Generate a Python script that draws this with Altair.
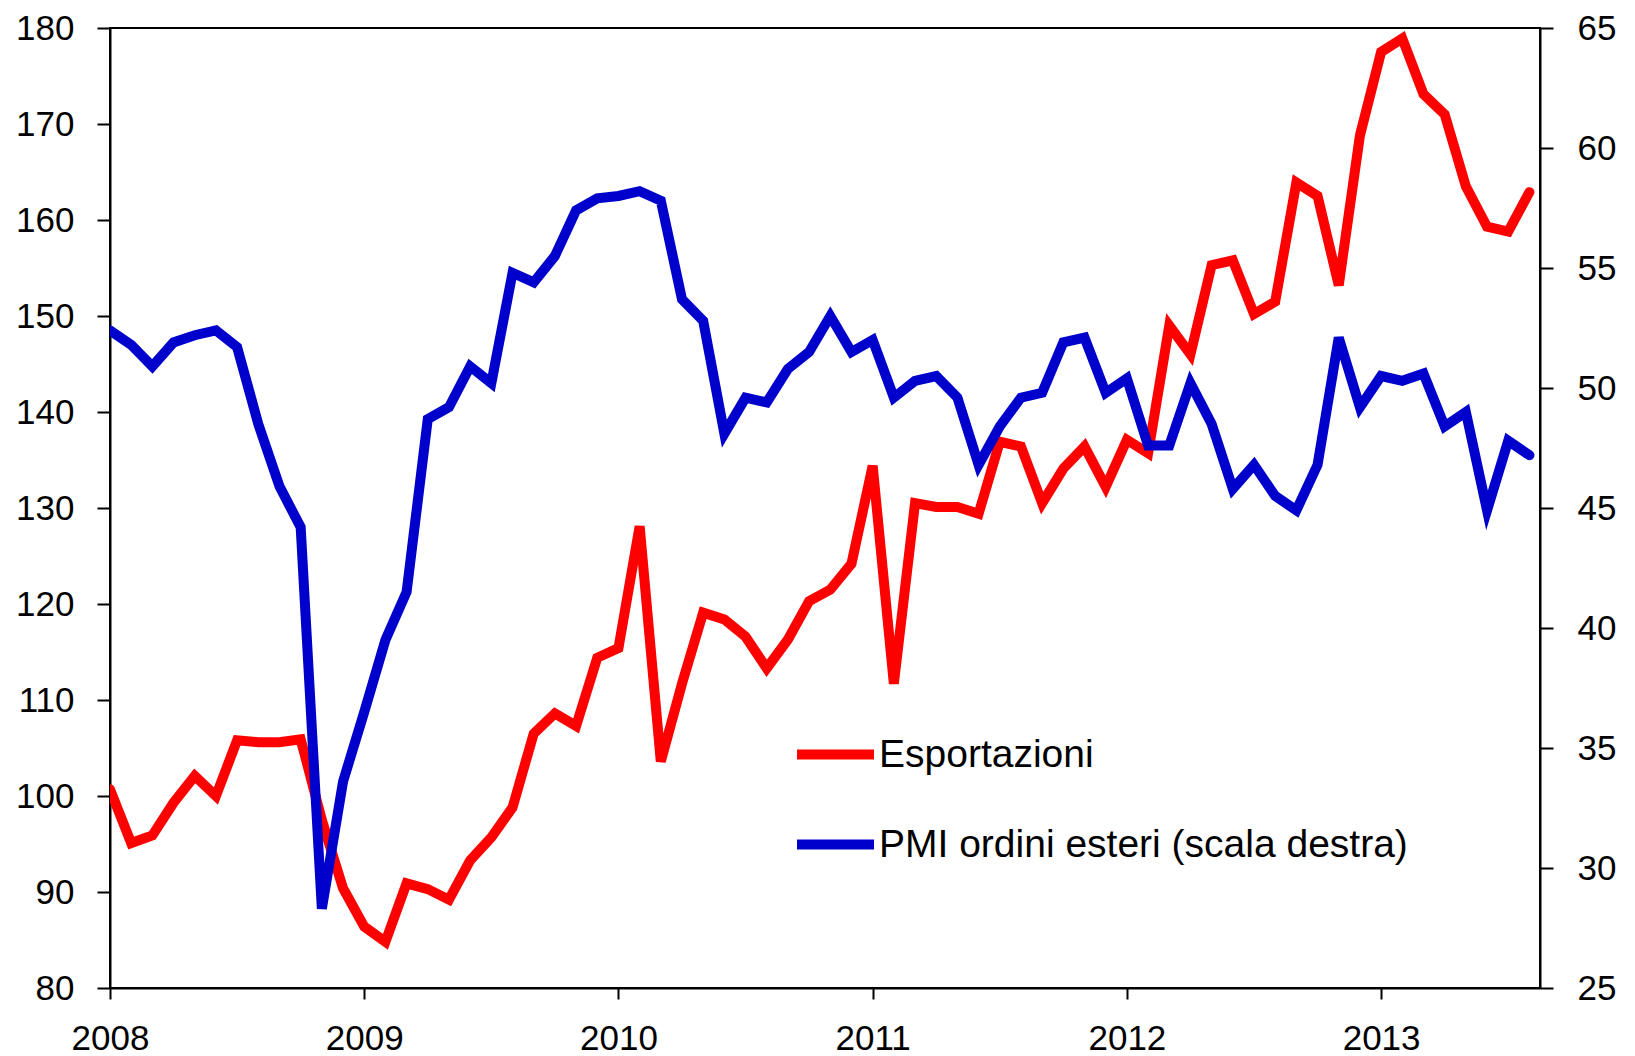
import altair as alt
import pandas as pd

# monthly observations, Jan 2008 - Aug 2013
months = [f"{2008 + i // 12}-{i % 12 + 1:02d}" for i in range(68)]

esportazioni = [
    100.7, 95.1, 95.9, 99.3, 102.1, 100.0, 105.8, 105.6, 105.6, 105.9, 97.5, 90.4,
    86.4, 84.8, 90.9, 90.3, 89.2, 93.3, 95.7, 98.8, 106.5, 108.6, 107.3, 114.4,
    115.4, 128.1, 103.6, 111.7, 119.1, 118.4, 116.6, 113.3, 116.3, 120.3, 121.5, 124.2,
    134.4, 111.7, 130.5, 130.1, 130.1, 129.4, 136.9, 136.4, 130.5, 134.1, 136.4, 132.2,
    137.1, 135.7, 149.0, 146.0, 155.3, 155.8, 150.2, 151.5, 163.9, 162.5, 153.2, 168.8,
    177.5, 178.9, 173.1, 171.0, 163.5, 159.3, 158.8, 162.9,
]

pmi_ordini_esteri = [
    52.4, 51.8, 50.9, 51.9, 52.2, 52.4, 51.7, 48.5, 45.9, 44.2, 28.3, 33.6,
    36.5, 39.5, 41.5, 48.7, 49.2, 50.9, 50.2, 54.8, 54.4, 55.5, 57.4, 57.9,
    58.0, 58.2, 57.8, 53.7, 52.8, 48.1, 49.6, 49.4, 50.8, 51.5, 53.0, 51.5,
    52.0, 49.6, 50.3, 50.5, 49.6, 46.8, 48.4, 49.6, 49.8, 51.9, 52.1, 49.8,
    50.4, 47.6, 47.6, 50.2, 48.5, 45.8, 46.8, 45.5, 44.9, 46.8, 52.1, 49.2,
    50.5, 50.3, 50.6, 48.4, 49.0, 44.9, 47.8, 47.2,
]

series_names = ["Esportazioni", "PMI ordini esteri (scala destra)"]
series_colors = ["#ff0000", "#0000cc"]
year_ticks = [2008, 2009, 2010, 2011, 2012, 2013]
left_ticks = list(range(80, 181, 10))
right_ticks = list(range(25, 66, 5))

def frac_year(m):
    y, mo = m.split("-")
    return int(y) + (int(mo) - 1) / 12.0

rows = []
for m, v in zip(months, esportazioni):
    rows.append({"t": frac_year(m), "serie": series_names[0], "valore": v})
for m, v in zip(months, pmi_ordini_esteri):
    rows.append({"t": frac_year(m), "serie": series_names[1], "valore": v})
df = pd.DataFrame(rows)

FONT = "Liberation Sans"

color = alt.Color(
    "serie:N",
    scale=alt.Scale(domain=series_names, range=series_colors),
    legend=alt.Legend(
        orient="none",
        legendX=682,
        legendY=683,
        title=None,
        symbolType="stroke",
        symbolSize=5929,
        symbolStrokeWidth=10,
        labelFont=FONT,
        labelFontSize=39,
        labelColor="black",
        labelOffset=0,
        rowPadding=26,
        padding=0,
        labelLimit=0,
    ),
)

x = alt.X(
    "t:Q",
    scale=alt.Scale(domain=[2008, 2013.625], nice=False, zero=False),
    axis=alt.Axis(
        values=year_ticks,
        format="d",
        title=None,
        grid=False,
        tickSize=11,
        labelPadding=22,
        labelFlush=False,
        labelOverlap=False,
    ),
)

base = alt.Chart(df)

red = base.transform_filter(alt.datum.serie == series_names[0]).mark_line(
    strokeWidth=10, strokeCap="round", clip=True
).encode(
    x=x,
    y=alt.Y(
        "valore:Q",
        scale=alt.Scale(domain=[80, 180], nice=False, zero=False),
        axis=alt.Axis(orient="left", values=left_ticks, title=None, grid=False,
                      tickSize=13, labelPadding=23),
    ),
    color=color,
)

blue = base.transform_filter(alt.datum.serie == series_names[1]).mark_line(
    strokeWidth=10, strokeCap="round", clip=True
).encode(
    x=x,
    y=alt.Y(
        "valore:Q",
        scale=alt.Scale(domain=[25, 65], nice=False, zero=False),
        axis=alt.Axis(orient="right", values=right_ticks, title=None, grid=False,
                      tickSize=13, labelPadding=24),
    ),
    color=color,
)

chart = (
    alt.layer(red, blue)
    .resolve_scale(y="independent")
    .properties(
        width=1430,
        height=960,
        autosize=alt.AutoSizeParams(type="none"),
        padding={"left": 102, "top": 20, "right": 85, "bottom": 68},
    )
    .configure_view(stroke="black", strokeWidth=2)
    .configure_axis(
        labelFont=FONT,
        labelFontSize=35,
        labelColor="black",
        domainColor="black",
        domainWidth=2,
        tickColor="black",
        tickWidth=2,
    )
)

chart.save("out.html", embed_options={"renderer": "svg", "actions": False})
